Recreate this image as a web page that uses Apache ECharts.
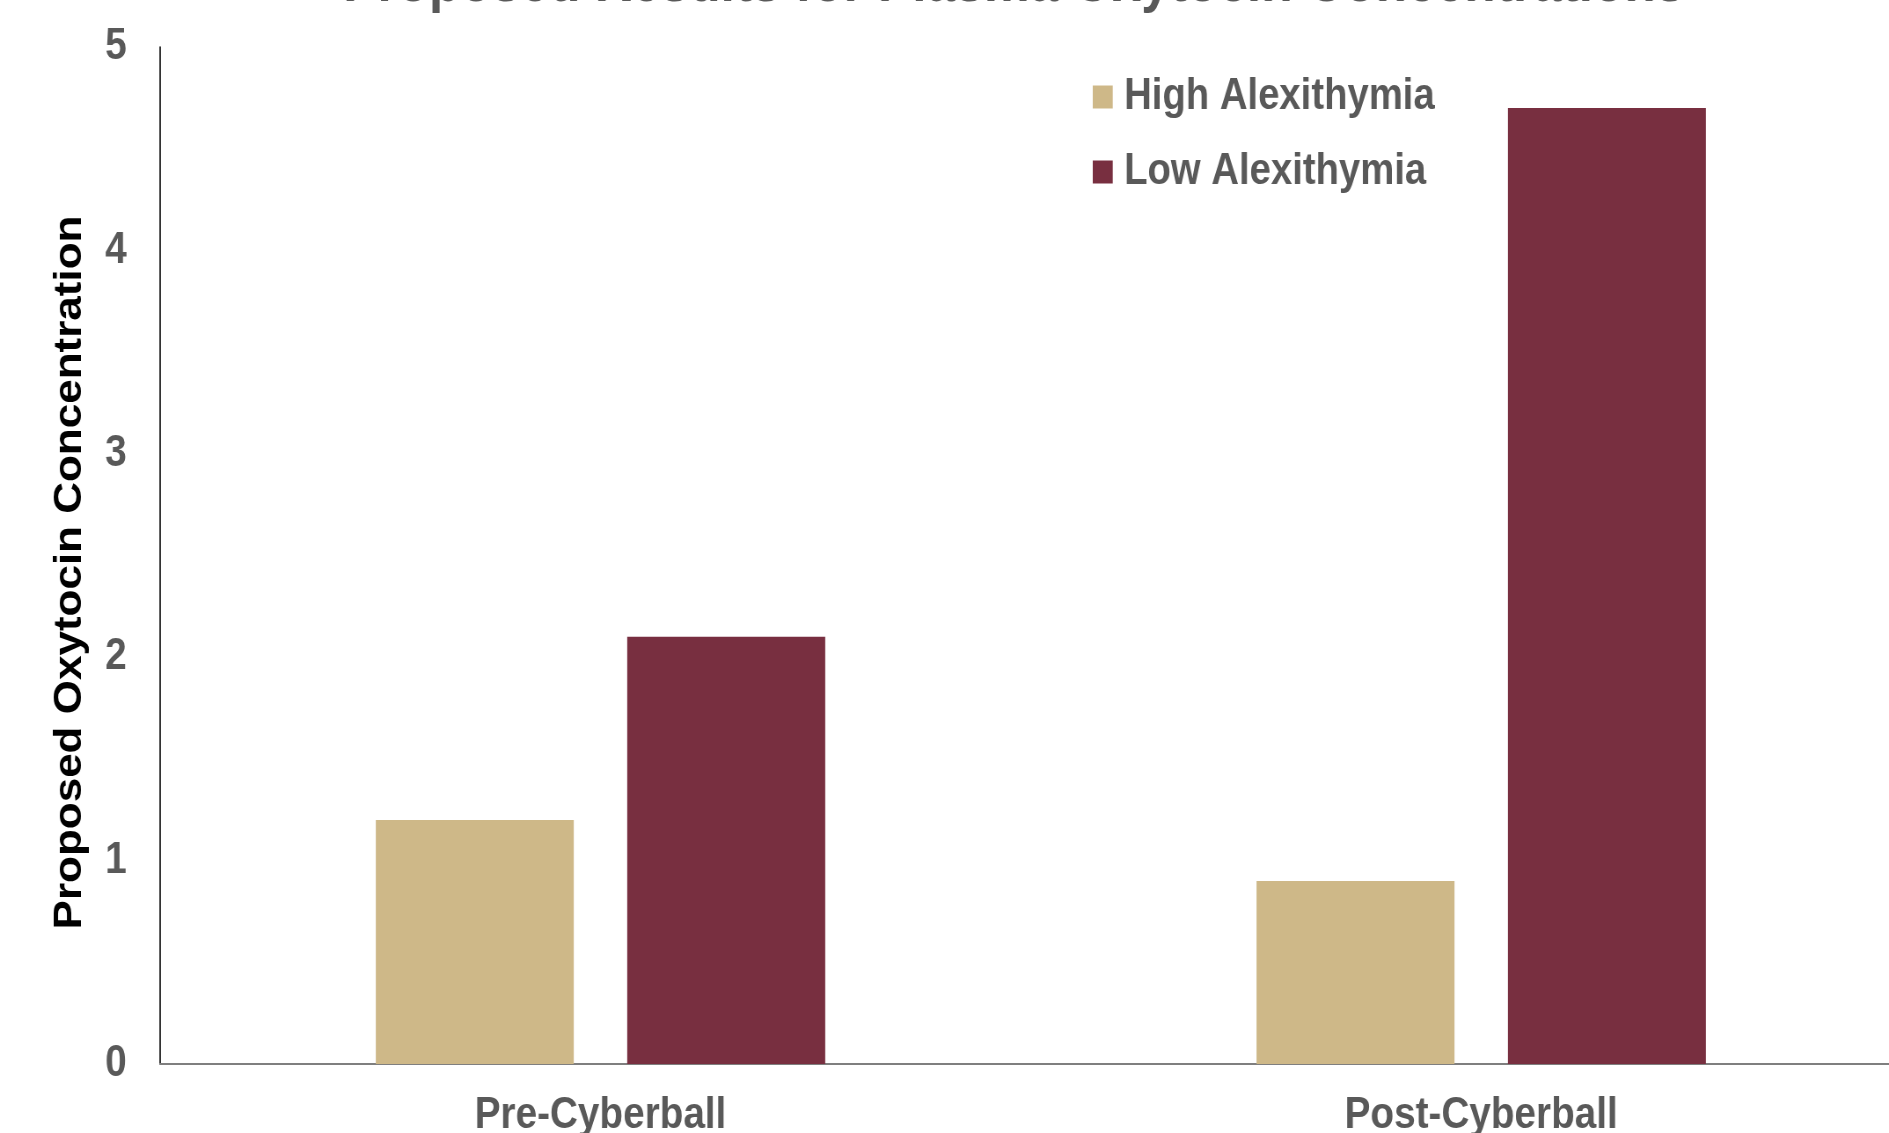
<!DOCTYPE html>
<html>
<head>
<meta charset="utf-8">
<title>Proposed Results for Plasma Oxytocin Concentrations</title>
<script src="https://cdn.jsdelivr.net/npm/echarts@6/dist/echarts.min.js"></script>
<style>
  html, body { margin: 0; padding: 0; overflow: hidden; background: #ffffff; }
  #frame { width: 1889px; height: 1133px; overflow: hidden; position: relative; }
  /* chart is laid out wider, then narrowed horizontally to give the condensed lettering */
  #chart { width: 2147px; height: 1133px; transform: scaleX(0.87983); transform-origin: 0 0; }
</style>
</head>
<body>
<div id="frame"><div id="chart"></div></div>
<script>
const categories = ['Pre-Cyberball', 'Post-Cyberball'];
const highAlexithymia = [1.2, 0.9];
const lowAlexithymia = [2.1, 4.7];
const yTicks = [0, 1, 2, 3, 4, 5];

const FONT = "'Liberation Sans', Arial, Helvetica, sans-serif";
const GREY = '#595959';

const chart = echarts.init(document.getElementById('chart'), null, { renderer: 'canvas' });

chart.setOption({
  animation: false,
  backgroundColor: '#ffffff',
  title: {
    text: 'Proposed Results for Plasma Oxytocin Concentrations',
    left: 390,
    top: -45,
    padding: 0,
    textStyle: { fontFamily: FONT, fontWeight: 'bold', fontSize: 58.5, color: GREY }
  },
  legend: {
    orient: 'vertical',
    left: 1242,
    top: 75,
    padding: 0,
    icon: 'rect',
    itemWidth: 22.7,
    itemHeight: 23,
    itemGap: 31,
    selectedMode: false,
    data: ['High Alexithymia', 'Low Alexithymia'],
    textStyle: { fontFamily: FONT, fontWeight: 'bold', fontSize: 43.5, lineHeight: 44, color: GREY, padding: [0, 0, 0, 8] }
  },
  grid: { left: 182, top: 47, width: 2002, bottom: 69, containLabel: false, outerBoundsMode: 'none' },
  xAxis: {
    type: 'category',
    data: categories,
    axisLine: { show: true, lineStyle: { color: '#7f7f7f', width: 2 } },
    axisTick: { show: false },
    axisLabel: { fontFamily: FONT, fontWeight: 'bold', fontSize: 44, color: GREY, margin: 30 },
    splitLine: { show: false }
  },
  yAxis: {
    type: 'value',
    min: yTicks[0],
    max: yTicks[yTicks.length - 1],
    interval: 1,
    name: 'Proposed Oxytocin Concentration',
    nameLocation: 'middle',
    nameGap: 80,
    nameTextStyle: { fontFamily: FONT, fontWeight: 'bold', fontSize: 44, color: '#000000', padding: [0, 34, 0, 0] },
    axisLine: { show: true, lineStyle: { color: '#000000', width: 1.6 } },
    axisTick: { show: false },
    splitLine: { show: false },
    axisLabel: { fontFamily: FONT, fontWeight: 'bold', fontSize: 44, color: GREY, margin: 38 }
  },
  series: [
    {
      name: 'High Alexithymia',
      type: 'bar',
      data: highAlexithymia,
      barWidth: 225,
      barGap: '27%',
      itemStyle: { color: '#CEB888' }
    },
    {
      name: 'Low Alexithymia',
      type: 'bar',
      data: lowAlexithymia,
      barWidth: 225,
      barGap: '27%',
      itemStyle: { color: '#782F40' }
    }
  ]
});
</script>
</body>
</html>
